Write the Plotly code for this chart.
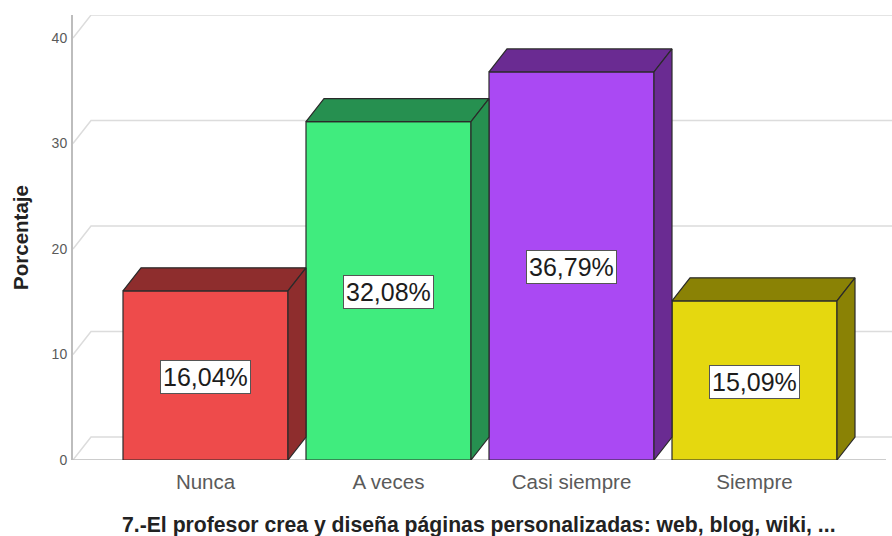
import plotly.graph_objects as go

categories = ["Nunca", "A veces", "Casi siempre", "Siempre"]
values = [16.04, 32.08, 36.79, 15.09]
labels = ["16,04%", "32,08%", "36,79%", "15,09%"]
front_colors = ["#EE4B4B", "#40EC7E", "#AA49F3", "#E5D80F"]
dark_colors = ["#8E2D2D", "#269050", "#6A2B92", "#8A8205"]
y_ticks = [0, 10, 20, 30, 40]

x_title = "7.-El profesor crea y diseña páginas personalizadas: web, blog, wiki, ..."
y_title = "Porcentaje"

BAR_W = 165 / 183
DX = 18 / 183
DY = 23 / 10.56
X_RANGE = [-132.5 / 183, 686.5 / 183]
Y_RANGE = [0, 445.5 / 10.56]
EDGE = "#2a2a2a"
GRID = "#dcdcdc"
AXIS = "#bdbdbd"

fig = go.Figure()
xs = list(range(len(categories)))

fig.add_trace(go.Bar(
    x=xs, y=values, width=BAR_W,
    marker=dict(color=front_colors, line=dict(color=EDGE, width=1.2)),
    hoverinfo="skip", showlegend=False,
))

for x, v, dark in zip(xs, values, dark_colors):
    l, r = x - BAR_W / 2, x + BAR_W / 2
    # top face
    fig.add_trace(go.Scatter(
        x=[l, l + DX, r + DX, r, l], y=[v, v + DY, v + DY, v, v],
        mode="lines", fill="toself", fillcolor=dark,
        line=dict(color=EDGE, width=1.2), hoverinfo="skip", showlegend=False))
    # side face
    fig.add_trace(go.Scatter(
        x=[r, r + DX, r + DX, r, r], y=[0, DY, v + DY, v, 0],
        mode="lines", fill="toself", fillcolor=dark,
        line=dict(color=EDGE, width=1.2), hoverinfo="skip", showlegend=False))

shapes = []
for t in y_ticks:
    path = (f"M {X_RANGE[0]} {t} L {X_RANGE[0] + DX} {t + DY} L {X_RANGE[1]} {t + DY}")
    shapes.append(dict(type="path", path=path, xref="x", yref="y", layer="below",
                       line=dict(color=GRID, width=1.5)))
shapes.append(dict(type="line", xref="x", yref="y", layer="below",
                   x0=X_RANGE[0], x1=X_RANGE[1] - 6 / 183, y0=0, y1=0,
                   line=dict(color=AXIS, width=1.5)))

annotations = [
    dict(x=x, y=v / 2, xref="x", yref="y", text=t, showarrow=False, yshift=-1.5,
         font=dict(family="Liberation Sans", size=25, color="#1c1c1c"),
         bgcolor="#ffffff", bordercolor="#555555", borderwidth=1, borderpad=2)
    for x, v, t in zip(xs, values, labels)
]
annotations.append(dict(
    x=(479 - 73) / 819, xref="paper", y=0, yref="paper", yanchor="middle", yshift=-64.5,
    text=f"<b>{x_title}</b>", showarrow=False,
    font=dict(family="Liberation Sans", size=21.2, color="#222222"),
))

fig.update_layout(
    width=892, height=536, autosize=False,
    margin=dict(l=73, r=0, t=15, b=75.5),
    paper_bgcolor="#ffffff", plot_bgcolor="#ffffff",
    shapes=shapes, annotations=annotations, showlegend=False,
    font=dict(family="Liberation Sans"),
    xaxis=dict(
        range=X_RANGE, tickmode="array", tickvals=xs, ticktext=categories,
        showgrid=False, zeroline=False, showline=False,
        ticks="outside", ticklen=3, tickcolor="rgba(0,0,0,0)",
        tickfont=dict(size=20.5, color="#5a5a5a"),
    ),
    yaxis=dict(
        range=Y_RANGE, tickmode="array", tickvals=y_ticks,
        showgrid=False, zeroline=False, showline=True,
        linecolor=AXIS, linewidth=2,
        ticks="outside", ticklen=1, tickcolor="rgba(0,0,0,0)",
        tickfont=dict(size=14, color="#5a5a5a"),
        title=dict(text=y_title, standoff=17,
                   font=dict(size=20.5, color="#222222", weight="bold")),
    ),
)

fig.write_html("out.html", config=dict(displayModeBar=False),
               post_script="document.body.style.margin='0';")
